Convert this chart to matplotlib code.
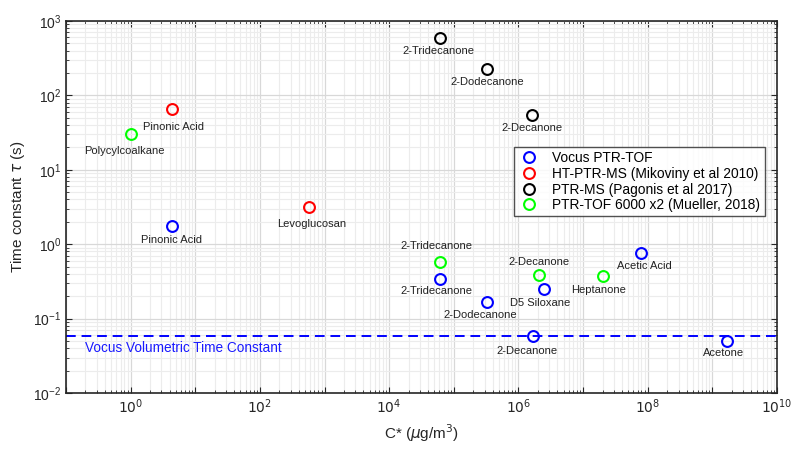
# time constant vs saturation concentration, several PTR instruments
import math
import matplotlib.pyplot as plt
import matplotlib.ticker as ticker

plt.rcParams['font.family'] = ['Liberation Sans', 'DejaVu Sans']
plt.rcParams['mathtext.fontset'] = 'dejavusans'

# Vocus PTR-TOF (blue)
vocus_names = ['Pinonic Acid', '2-Tridecanone', '2-Dodecanone', 'D5 Siloxane',
               '2-Decanone', 'Acetic Acid', 'Acetone']
vocus_cstar = [4.3, 6.2e4, 3.3e5, 2.5e6, 1.69e6, 8.0e7, 1.68e9]
vocus_tau = [1.76, 0.34, 0.169, 0.25, 0.058, 0.76, 0.05]

# HT-PTR-MS, Mikoviny et al 2010 (red)
mik_names = ['Pinonic Acid', 'Levoglucosan']
mik_cstar = [4.3, 575]
mik_tau = [65.6, 3.16]

# PTR-MS, Pagonis et al 2017 (black)
pag_names = ['2-Tridecanone', '2-Dodecanone', '2-Decanone']
pag_cstar = [6.2e4, 3.3e5, 1.65e6]
pag_tau = [590, 226, 54.6]

# PTR-TOF 6000 x2, Mueller 2018 (green)
mue_names = ['Polycylcoalkane', '2-Tridecanone', '2-Decanone', 'Heptanone']
mue_cstar = [1.0, 6.2e4, 2.06e6, 2.06e7]
mue_tau = [30, 0.58, 0.389, 0.37]

vocus_volumetric = 0.058

x_decades = list(range(-1, 11))
y_decades = list(range(-2, 4))

# label offsets in pixels (dx, dy)
vocus_off = [(0, -14), (-4, -12), (-7, -13), (-4, -14), (-6, -15), (3, -13), (-3, -12)]
mik_off = [(2, -18), (3, -17)]
pag_off = [(-2, -13), (0, -13), (0, -13)]
mue_off = [(-6, -17), (-4, 16), (0, 13), (-5, -14)]

fig = plt.figure(figsize=(7.92, 4.49), dpi=100)
ax = fig.add_axes([0.0833, 0.1247, 0.8977, 0.8286])
ax.set_xscale('log')
ax.set_yscale('log')
ax.set_xlim(1e-1, 1e10)
ax.set_ylim(1e-2, 1e3)

ax.axhline(vocus_volumetric, color=(0, 0, 1), ls=(0, (5, 3)), lw=1.4, zorder=2)
ax.annotate('Vocus Volumetric Time Constant', (0, vocus_volumetric),
            xycoords=('axes fraction', 'data'), xytext=(19, -12),
            textcoords='offset pixels', color=(0.1, 0.1, 1.0), fontsize=9.8,
            va='center', ha='left')

groups = [
    (vocus_names, vocus_cstar, vocus_tau, vocus_off, (0, 0, 1), 'Vocus PTR-TOF'),
    (mik_names, mik_cstar, mik_tau, mik_off, (1, 0, 0), 'HT-PTR-MS (Mikoviny et al 2010)'),
    (pag_names, pag_cstar, pag_tau, pag_off, (0, 0, 0), 'PTR-MS (Pagonis et al 2017)'),
    (mue_names, mue_cstar, mue_tau, mue_off, (0, 1, 0), 'PTR-TOF 6000 x2 (Mueller, 2018)'),
]
for names, cs, tau, offs, col, lab in groups:
    ax.plot(cs, tau, 'o', ms=7.8, mfc='none', mec=col, mew=1.5, label=lab, zorder=3)
    for n, x, y, (dx, dy) in zip(names, cs, tau, offs):
        ax.annotate(n, (x, y), xytext=(dx, dy), textcoords='offset pixels',
                    ha='center', va='center', fontsize=8, color='#222222')


def even_decades(v, pos):
    e = round(math.log10(v))
    return r'$10^{%d}$' % e if e % 2 == 0 else ''


# MATLAB-ish box, grid, ticks
ax.grid(True, which='major', color='#d8d8d8', lw=0.9)
ax.grid(True, which='minor', color='#ececec', lw=0.8)
ax.set_axisbelow(True)
ax.xaxis.set_major_locator(ticker.FixedLocator([10.0 ** e for e in x_decades]))
ax.xaxis.set_major_formatter(ticker.FuncFormatter(even_decades))
ax.yaxis.set_major_locator(ticker.FixedLocator([10.0 ** e for e in y_decades]))
ax.yaxis.set_major_formatter(ticker.LogFormatterSciNotation())
ax.xaxis.set_minor_locator(ticker.LogLocator(base=10, subs=range(2, 10), numticks=20))
ax.yaxis.set_minor_locator(ticker.LogLocator(base=10, subs=range(2, 10), numticks=20))
ax.xaxis.set_minor_formatter(ticker.NullFormatter())
ax.yaxis.set_minor_formatter(ticker.NullFormatter())
ax.tick_params(which='both', direction='in', top=True, right=True, labelsize=10,
               colors='#262626')
ax.tick_params(which='major', length=4, width=0.8)
ax.tick_params(which='minor', length=2.5, width=0.6)
for s in ax.spines.values():
    s.set_linewidth(1.2)
    s.set_color('#262626')

ax.set_xlabel(r'C* ($\mu$g/m$^3$)', fontsize=11, color='#262626')
ax.set_ylabel(r'Time constant $\tau$ (s)', fontsize=11, color='#262626')

leg = ax.legend(loc='upper left', bbox_to_anchor=(0.630, 0.661), fontsize=9.9,
                frameon=True, fancybox=False, borderpad=0.3, labelspacing=0.12,
                handletextpad=0.9, handlelength=1.6, borderaxespad=0)
leg.get_frame().set_edgecolor('#262626')
leg.get_frame().set_linewidth(1.0)

fig.savefig('out.png', dpi=100)
